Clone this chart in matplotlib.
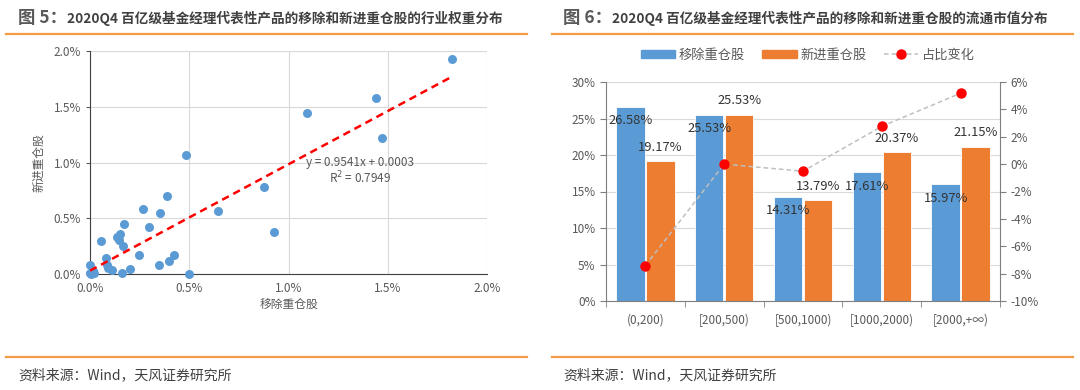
import numpy as np
import matplotlib.pyplot as plt
from matplotlib.patches import Patch
from matplotlib.lines import Line2D
from matplotlib.text import Annotation
from matplotlib.ticker import FuncFormatter

plt.rcParams['font.family'] = ['Noto Sans CJK SC', 'DejaVu Sans']

# ---- 图5 散点数据（%）----
removed_w = [1.826, 1.44, 1.091, 1.471, 0.484, 0.876, 0.925, 0.645, 0.389, 0.269,
             0.354, 0.295, 0.172, 0.153, 0.137, 0.146, 0.168, 0.057, 0.246, 0.080,
             0.421, 0.397, 0.347, 0.203, 0.160, 0.498, 0.088, 0.092, 0.109, 0.0,
             0.0, 0.014, 0.02, 0.006, 0.01]
new_w = [1.931, 1.575, 1.447, 1.22, 1.067, 0.777, 0.380, 0.562, 0.703, 0.580,
         0.550, 0.425, 0.445, 0.362, 0.335, 0.305, 0.248, 0.296, 0.167, 0.141,
         0.170, 0.120, 0.084, 0.045, 0.012, 0.0, 0.081, 0.051, 0.039, 0.081,
         0.006, 0.027, 0.005, 0.0, 0.015]
slope, intercept = 0.9541, 0.03   # y = 0.9541x + 0.0003

# ---- 图6 柱状数据（%）----
cats = ['(0,200)', '[200,500)', '[500,1000)', '[1000,2000)', '[2000,+∞)']
removed_mv = [26.58, 25.53, 14.31, 17.61, 15.97]
new_mv = [19.17, 25.53, 13.79, 20.37, 21.15]
change = [-7.41, 0.0, -0.52, 2.76, 5.18]

W, H = 1080, 390
fig = plt.figure(figsize=(W / 100, H / 100), dpi=100)

def px(l, t, r, b):
    return [l / W, 1 - b / H, (r - l) / W, (b - t) / H]

orange = '#F39A45'
tick_c = '#595959'
blue = '#5B9BD5'
org = '#ED7D31'

# 标题、分割线、来源
for x0, x1, tx, num, rest in [
        (6, 527, 18, '图 5：', '2020Q4 百亿级基金经理代表性产品的移除和新进重仓股的行业权重分布'),
        (552, 1073, 563, '图 6：', '2020Q4 百亿级基金经理代表性产品的移除和新进重仓股的流通市值分布')]:
    t1 = fig.text(tx / W, 1 - 18 / H, num, fontsize=12.5, fontweight='bold',
                  color='#595959', va='center')
    fig.add_artist(Annotation(rest, xy=(1, 0.5), xycoords=t1, xytext=(0, 0),
                              textcoords='offset points', fontsize=9.8, fontweight='bold',
                              color='#404040', va='center', ha='left'))
    fig.add_artist(Line2D([x0 / W, x1 / W], [1 - 33.7 / H] * 2, color=orange, lw=1.6))
    fig.add_artist(Line2D([x0 / W, x1 / W], [1 - 357 / H] * 2, color=orange, lw=1.6))
    fig.text(tx / W, 1 - 375 / H, '资料来源：Wind，天风证券研究所', fontsize=10,
             color='#404040', va='center')

# ---- 左图：散点 ----
ax = fig.add_axes(px(90, 51, 487, 274))
ax.scatter(removed_w, new_w, s=42, color=blue, zorder=3, linewidths=0, clip_on=False)
xs = np.array([0.0, max(removed_w)])
ax.plot(xs, slope * xs + intercept, color='#FF0000', ls=(0, (3, 2)), lw=1.8, zorder=4)
ax.set_xlim(0, 2.0)
ax.set_ylim(0, 2.0)
ax.set_xticks([0, 0.5, 1.0, 1.5, 2.0])
ax.set_yticks([0, 0.5, 1.0, 1.5, 2.0])
pct1 = FuncFormatter(lambda v, p: f'{v:.1f}%')
ax.xaxis.set_major_formatter(pct1)
ax.yaxis.set_major_formatter(pct1)
ax.grid(True, color='#D9D9D9', lw=0.8)
ax.set_axisbelow(True)
for s in ['top', 'right']:
    ax.spines[s].set_visible(False)
for s in ['left', 'bottom']:
    ax.spines[s].set_color('#404040')
ax.tick_params(axis='both', colors=tick_c, labelsize=8.5, length=3)
ax.tick_params(axis='x', length=0, pad=6)
ax.set_xlabel('移除重仓股', fontsize=8.5, color=tick_c, labelpad=2)
ax.set_ylabel('新进重仓股', fontsize=8.5, color=tick_c, labelpad=6)
ax.text(1.36, 1.0, 'y = 0.9541x + 0.0003', fontsize=8.5, color=tick_c, ha='center', va='center')
ax.text(1.36, 0.86, 'R$^2$ = 0.7949', fontsize=8.5, color=tick_c, ha='center', va='center')

# ---- 右图：柱状 + 折线 ----
bx = fig.add_axes(px(606, 82, 1000, 301))
x = np.arange(len(cats))
bw = 0.36
b1 = bx.bar(x - bw / 2 - 0.01, removed_mv, bw, color=blue, edgecolor='white', lw=0.6, zorder=2)
b2 = bx.bar(x + bw / 2 + 0.01, new_mv, bw, color=org, edgecolor='white', lw=0.6, zorder=2)
for r, v in zip(b1, removed_mv):
    bx.annotate(f'{v:.2f}%', (r.get_x() + r.get_width() / 2, v), xytext=(0, -14),
                textcoords='offset pixels', ha='center', va='center', fontsize=9.3, color='#333333')
for r, v in zip(b2, new_mv):
    bx.annotate(f'{v:.2f}%', (r.get_x() + r.get_width() / 2, v), xytext=(0, 14),
                textcoords='offset pixels', ha='center', va='center', fontsize=9.3, color='#333333')
bx.set_ylim(0, 30)
bx.set_yticks(range(0, 31, 5))
bx.yaxis.set_major_formatter(FuncFormatter(lambda v, p: f'{v:.0f}%'))
bx.set_xlim(-0.5, 4.5)
bx.set_xticks(x)
bx.set_xticklabels(cats)
bx.set_xticks(np.arange(-0.5, 5, 1), minor=True)
bx.tick_params(axis='x', which='major', length=0, pad=9, labelsize=8.5, colors=tick_c)
bx.tick_params(axis='x', which='minor', length=4, color='#7F7F7F')
bx.tick_params(axis='y', labelsize=8.5, colors=tick_c, length=4, color='#7F7F7F')
bx.grid(True, axis='y', color='#D9D9D9', lw=0.8)
bx.set_axisbelow(True)
bx.spines['top'].set_visible(False)
bx.spines['right'].set_visible(False)
for s in ['left', 'bottom']:
    bx.spines[s].set_color('#7F7F7F')

tx2 = bx.twinx()
tx2.plot(x, change, color='#BFBFBF', ls=(0, (3, 2)), lw=1.1, marker='o', ms=6.5,
         mfc='#FF0000', mec='#FF0000', zorder=5)
tx2.set_ylim(-10, 6)
tx2.set_yticks(range(-10, 7, 2))
tx2.yaxis.set_major_formatter(FuncFormatter(lambda v, p: f'{v:.0f}%'))
tx2.tick_params(axis='y', labelsize=8.5, colors=tick_c, length=4, color='#7F7F7F')
for s in ['top', 'left', 'bottom']:
    tx2.spines[s].set_visible(False)
tx2.spines['right'].set_color('#7F7F7F')

handles = [Patch(color=blue), Patch(color=org),
           Line2D([], [], color='#BFBFBF', ls=(0, (3, 2)), lw=1.1, marker='o', ms=6.5,
                  mfc='#FF0000', mec='#FF0000')]
fig.legend(handles, ['移除重仓股', '新进重仓股', '占比变化'], loc='center',
           bbox_to_anchor=(808 / W, 1 - 55 / H), ncol=3, frameon=False, fontsize=9.5,
           handlelength=2.6, handleheight=0.6, columnspacing=1.3, handletextpad=0.3,
           labelcolor=tick_c)

fig.savefig('out.png', dpi=100)
